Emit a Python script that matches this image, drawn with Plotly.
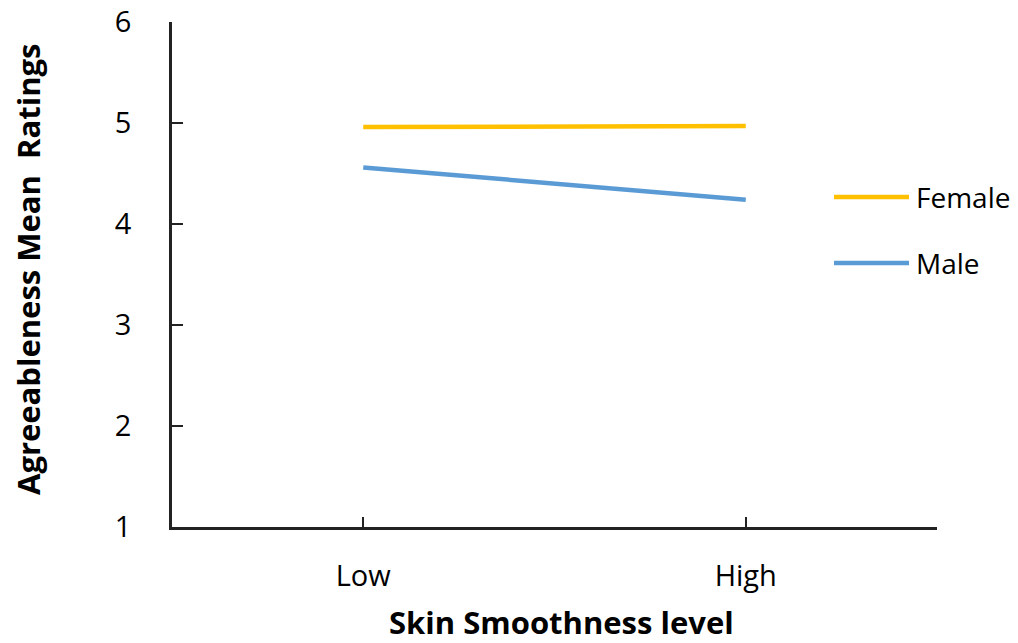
import plotly.graph_objects as go

# Mean agreeableness ratings by skin smoothness level and face gender
levels = ["Low", "High"]
series_names = ["Female", "Male"]
female_means = [4.96, 4.97]
male_means = [4.56, 4.24]
series_colors = ["#FFC000", "#5B9BD5"]
y_ticks = [1, 2, 3, 4, 5, 6]

W, H = 1018, 643
L, R, T, B = 172, 81, 22, 116
PW, PH = W - L - R, H - T - B


def px_x(px):
    return (px - L) / PW


def px_y(py):
    return (H - B - py) / PH


FONT = "Open Sans"
fig = go.Figure()
x_pos = list(range(len(levels)))
for name, vals, col in zip(series_names, [female_means, male_means], series_colors):
    fig.add_trace(go.Scatter(
        x=x_pos, y=vals, mode="lines", name=name,
        line=dict(color=col, width=4.5), showlegend=False,
    ))

# Hand-built legend with long line samples
legend_rows = [197, 263]
for name, col, py in zip(series_names, series_colors, legend_rows):
    fig.add_shape(type="line", xref="paper", yref="paper",
                  x0=px_x(834), x1=px_x(909), y0=px_y(py), y1=px_y(py),
                  line=dict(color=col, width=4.5))
    fig.add_annotation(xref="paper", yref="paper", x=px_x(914), y=px_y(py),
                       text=name, showarrow=False, xanchor="left", yanchor="middle",
                       font=dict(family=FONT, size=28, color="#000"))

# Axis titles
fig.add_annotation(xref="paper", yref="paper", x=px_x(561), y=px_y(622),
                   text="<b>Skin Smoothness level</b>", showarrow=False,
                   xanchor="center", yanchor="middle",
                   font=dict(family=FONT, size=31, color="#000"))
fig.add_annotation(xref="paper", yref="paper", x=px_x(28), y=px_y(270),
                   text="<b>Agreeableness Mean\u00a0 Ratings</b>", showarrow=False,
                   textangle=-90, xanchor="center", yanchor="middle",
                   font=dict(family=FONT, size=31, color="#000"))

fig.update_layout(
    width=W, height=H,
    margin=dict(l=L, r=R, t=T, b=B),
    plot_bgcolor="white", paper_bgcolor="white",
    font=dict(family=FONT, size=29, color="#000"),
    xaxis=dict(
        range=[-0.5, 1.5], automargin=False,
        tickvals=x_pos + [1.5], ticktext=levels + [""],
        ticks="inside", ticklen=10, tickwidth=2, tickcolor="#222",
        showline=True, linecolor="#222", linewidth=2.5,
        showgrid=False, zeroline=False, ticklabelstandoff=21,
    ),
    yaxis=dict(
        range=[1, 6], tickvals=y_ticks, automargin=False,
        ticks="inside", ticklen=11, tickwidth=2, tickcolor="#222",
        showline=True, linecolor="#222", linewidth=2.5,
        showgrid=False, zeroline=False, ticklabelstandoff=32,
    ),
)

fig.write_html("out.html")
